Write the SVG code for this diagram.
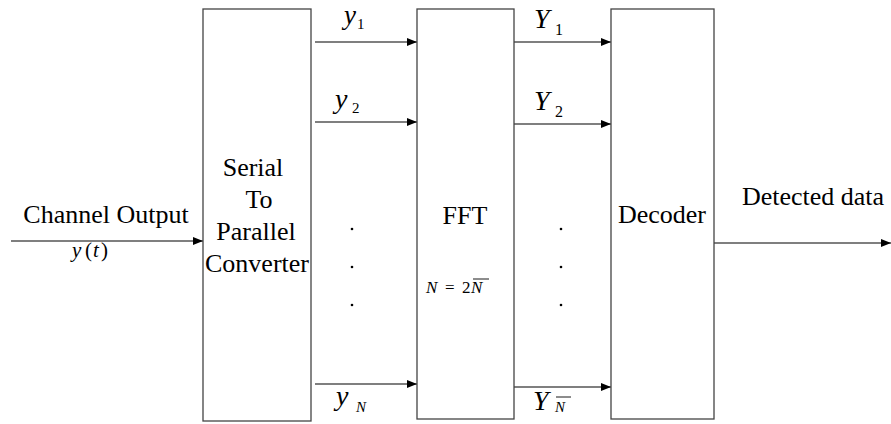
<svg xmlns="http://www.w3.org/2000/svg" width="891" height="424" viewBox="0 0 891 424">
<defs>
<marker id="ah" markerWidth="10" markerHeight="8" refX="10" refY="4" orient="auto" markerUnits="userSpaceOnUse">
<path d="M0,0 L10,4 L0,8 Z" fill="#000"/>
</marker>
</defs>
<style>
.box{fill:#fff;stroke:#444;stroke-width:1.3}
.ln{stroke:#000;stroke-width:1.2;fill:none;marker-end:url(#ah)}
text{font-family:'Liberation Serif','Times New Roman','DejaVu Serif',serif;fill:#000}
.t{font-size:26px}
.m{font-style:italic}
.r{font-style:normal}
</style>
<rect width="891" height="424" fill="#fff"/>
<g id="connectors">
<line class="ln" x1="11" y1="241" x2="203" y2="241"/>
<line class="ln" x1="315" y1="42" x2="417" y2="42"/>
<line class="ln" x1="315" y1="122" x2="417" y2="122"/>
<line class="ln" x1="315" y1="384" x2="417" y2="384"/>
<line class="ln" x1="514" y1="42" x2="611" y2="42"/>
<line class="ln" x1="514" y1="124" x2="611" y2="124"/>
<line class="ln" x1="514" y1="387" x2="611" y2="387"/>
<line class="ln" x1="714" y1="243" x2="891" y2="243"/>
</g>
<g id="sp">
<rect class="box" x="203" y="9" width="108" height="412"/>
<text class="t" x="253" y="176" text-anchor="middle">Serial</text>
<text class="t" x="259" y="208" text-anchor="middle">To</text>
<text class="t" x="256" y="240" text-anchor="middle">Parallel</text>
<text class="t" x="257" y="272" text-anchor="middle">Converter</text>
</g>
<g id="fft">
<rect class="box" x="417" y="9" width="97" height="410"/>
<text class="t" x="465" y="224" text-anchor="middle">FFT</text>
<text class="m" x="426" y="293" font-size="17">N</text>
<text x="445" y="293" font-size="17">=</text>
<text x="462" y="293" font-size="17">2</text>
<text class="m" x="471" y="293" font-size="17">N</text>
<line x1="473" y1="279" x2="489" y2="279" stroke="#000" stroke-width="0.9"/>
</g>
<g id="decoder">
<rect class="box" x="611" y="9" width="103" height="410"/>
<text class="t" x="662" y="223" text-anchor="middle">Decoder</text>
</g>
<g id="labels">
<text class="t" x="106" y="223" text-anchor="middle">Channel Output</text>
<text class="m" x="72" y="257" font-size="21">y</text>
<text class="r" x="85" y="257" font-size="21">(</text>
<text class="m" x="93" y="257" font-size="21">t</text>
<text class="r" x="101" y="257" font-size="21">)</text>
<text class="t" x="813" y="205" text-anchor="middle">Detected data</text>
<text class="m" x="344" y="24" font-size="27">y</text>
<text class="r" x="357" y="29" font-size="15">1</text>
<text class="m" x="335" y="108" font-size="28">y</text>
<text class="r" x="352" y="113" font-size="15">2</text>
<text class="m" x="336" y="405" font-size="28">y</text>
<text class="m" x="356" y="412" font-size="15">N</text>
<text class="m" x="534" y="28" font-size="28">Y</text>
<text class="r" x="555" y="35" font-size="16">1</text>
<text class="m" x="534" y="110" font-size="28">Y</text>
<text class="r" x="555" y="117" font-size="16">2</text>
<text class="m" x="533" y="410" font-size="28">Y</text>
<text class="m" x="555" y="412" font-size="15">N</text>
<line x1="556" y1="397" x2="571" y2="397" stroke="#000" stroke-width="0.9"/>
<g fill="#000">
<circle cx="352" cy="229" r="1.3"/><circle cx="352" cy="267" r="1.3"/><circle cx="352" cy="305" r="1.3"/>
<circle cx="561" cy="229" r="1.3"/><circle cx="561" cy="267" r="1.3"/><circle cx="561" cy="305" r="1.3"/>
</g>
</g>
</svg>
